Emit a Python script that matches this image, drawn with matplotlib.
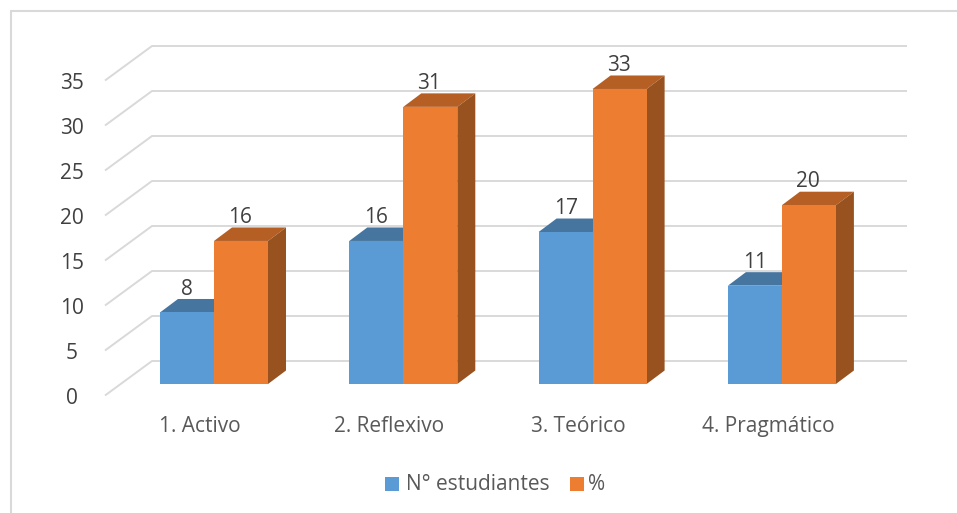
import matplotlib
matplotlib.use("Agg")
import matplotlib.pyplot as plt
from matplotlib.patches import Polygon, Rectangle

categories = ["1. Activo", "2. Reflexivo", "3. Teórico", "4. Pragmático"]
n_estudiantes = [8, 16, 17, 11]
porcentaje = [16, 31, 33, 20]
y_ticks = [0, 5, 10, 15, 20, 25, 30, 35]

W, H = 957, 513
PX_X = 189.3      # px per category
PX_Y = 8.94       # px per value unit
X0 = 214.0        # px of first category centre
Y0 = 384.0        # px of bar base
BAR_W = 54 / PX_X
DX = 18 / PX_X    # bar depth
DY = 13.5 / PX_Y
GRID = 9.0 / PX_Y  # gridlines are a little wider spaced than the bars
BACK_L = (152 - X0) / PX_X
BACK_R = (907 - X0) / PX_X
FRONT_L = (105 - X0) / PX_X
BACK_0 = (Y0 - 361) / PX_Y
FRONT_0 = (Y0 - 395.5) / PX_Y
TICK_X = (72 - X0) / PX_X
FS = 15

plt.rcParams["font.family"] = ["Open Sans", "DejaVu Sans"]

fig = plt.figure(figsize=(W / 100, H / 100), dpi=100)
ax = fig.add_axes([0, 0, 1, 1])
ax.set_xlim(-X0 / PX_X, (W - X0) / PX_X)
ax.set_ylim((Y0 - H) / PX_Y, Y0 / PX_Y)
ax.axis("off")

# marco del grafico
ax.add_patch(Rectangle((0.0115, -0.1), 1.2, 1.078, transform=ax.transAxes,
                       facecolor="white", edgecolor="#D9D9D9", linewidth=1.5, zorder=0))

# rejilla 3D
for t in y_ticks:
    yb = BACK_0 + t * GRID
    yf = FRONT_0 + t * GRID
    ax.plot([FRONT_L, BACK_L, BACK_R], [yf, yb, yb], color="#D9D9D9", lw=1.4,
            solid_joinstyle="miter", solid_capstyle="butt", zorder=1)
    ax.text(TICK_X, yf - 0.3, str(t), ha="center", va="center", fontsize=FS, color="#404040")


def bar3d(x, v, front, top, side, z):
    ax.add_patch(Polygon([(x, v), (x + DX, v + DY), (x + BAR_W + DX, v + DY), (x + BAR_W, v)],
                         facecolor=top, edgecolor="none", zorder=z))
    ax.add_patch(Polygon([(x + BAR_W, 0), (x + BAR_W + DX, DY), (x + BAR_W + DX, v + DY), (x + BAR_W, v)],
                         facecolor=side, edgecolor="none", zorder=z))
    ax.add_patch(Rectangle((x, 0), BAR_W, v, facecolor=front, edgecolor="none", zorder=z))


for i, cat in enumerate(categories):
    bar3d(i - BAR_W, n_estudiantes[i], "#5B9BD5", "#4675A0", "#3F6F9C", 2)
    bar3d(i, porcentaje[i], "#ED7D31", "#B65F25", "#97521F", 3)
    ax.text(i - BAR_W / 2, n_estudiantes[i] + 2.6, str(n_estudiantes[i]),
            ha="center", va="center", fontsize=FS, color="#404040", zorder=4)
    ax.text(i + BAR_W / 2 - 1 / PX_X, porcentaje[i] + 2.6, str(porcentaje[i]),
            ha="center", va="center", fontsize=FS, color="#404040", zorder=4)
    ax.text(i - 14 / PX_X, -4.8, cat, ha="center", va="center", fontsize=FS, color="#595959")

# leyenda
fig.patches.append(Rectangle((385 / W, 1 - 491 / H), 14 / W, 14 / H, transform=fig.transFigure,
                             facecolor="#5B9BD5", edgecolor="none"))
fig.patches.append(Rectangle((570 / W, 1 - 491 / H), 14 / W, 14 / H, transform=fig.transFigure,
                             facecolor="#ED7D31", edgecolor="none"))
fig.text(406 / W, 1 - 485 / H, "N° estudiantes", ha="left", va="center", fontsize=FS, color="#595959")
fig.text(588 / W, 1 - 485 / H, "%", ha="left", va="center", fontsize=FS, color="#595959")

fig.savefig("out.png", dpi=100)
